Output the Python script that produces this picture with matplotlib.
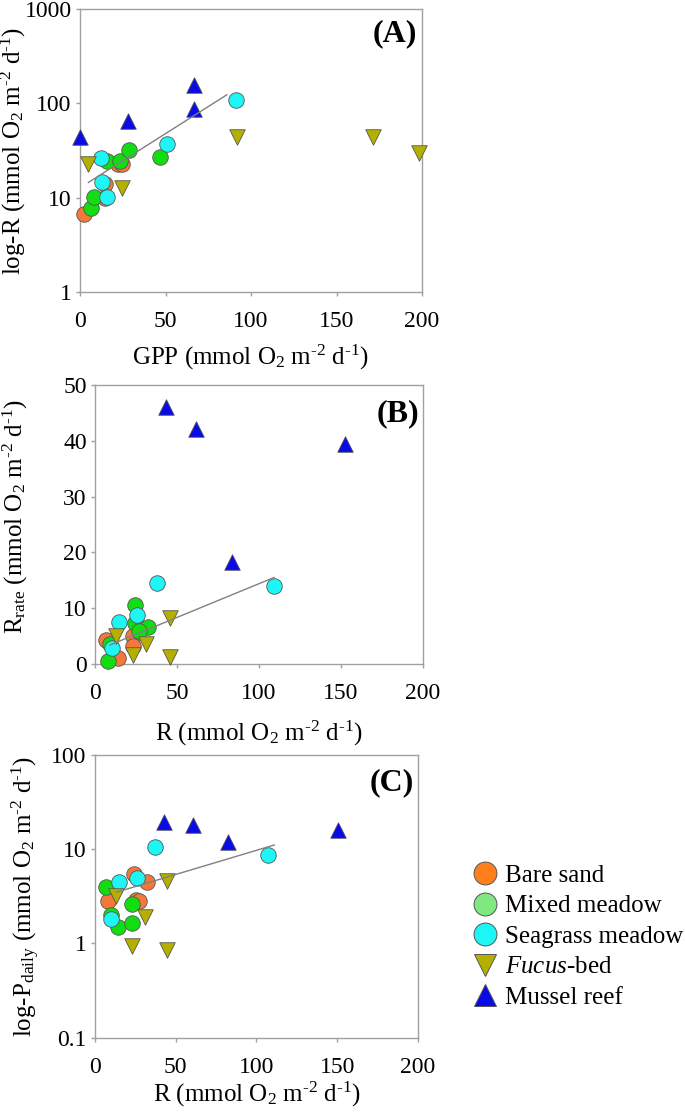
import matplotlib
matplotlib.use('Agg')
import matplotlib.pyplot as plt
from matplotlib.lines import Line2D

plt.rcParams['font.family'] = ['Liberation Serif', 'DejaVu Serif']
plt.rcParams['mathtext.fontset'] = 'custom'
plt.rcParams['mathtext.rm'] = 'Liberation Serif'
plt.rcParams['mathtext.it'] = 'Liberation Serif:italic'
plt.rcParams['mathtext.bf'] = 'Liberation Serif:bold'

# ---- Panel A: GPP vs R (log) ----
a_sand_x = [2.3, 14.6, 14.6, 22.4, 24.4]
a_sand_y = [6.7, 14.1, 10.0, 22.6, 23.0]
a_mixed_x = [6.2, 8.4, 16.0, 23.4, 28.7, 46.8]
a_mixed_y = [7.7, 10.2, 24.2, 24.2, 32.0, 27.0]
a_sea_x = [12.1, 12.7, 16.0, 50.7, 91.3]
a_sea_y = [26.2, 14.6, 10.2, 37.5, 108]
a_fucus_x = [4.9, 24.4, 91.7, 171.6, 198.5]
a_fucus_y = [23.0, 12.6, 43.5, 44.0, 29.4]
a_mussel_x = [0.0, 28.3, 66.9, 66.9]
a_mussel_y = [44.0, 64.5, 158, 87.0]
a_trend_x = [4.9, 85.8]
a_trend_y = [14.5, 123]

# ---- Panel B: R vs R_rate ----
b_sand_x = [6.7, 14.2, 23.3, 23.3]
b_sand_y = [4.3, 1.0, 5.0, 3.2]
b_mixed_x = [24.2, 24.4, 32.1, 27.0, 7.7, 9.1]
b_mixed_y = [10.6, 7.3, 6.6, 5.9, 0.6, 3.6]
b_sea_x = [37.6, 109.2, 14.4, 25.8, 10.2]
b_sea_y = [14.6, 13.9, 7.5, 8.8, 2.8]
b_fucus_x = [12.8, 23.3, 31.1, 45.7, 45.7]
b_fucus_y = [5.0, 1.6, 3.6, 8.2, 1.2]
b_mussel_x = [43.2, 61.5, 83.8, 152.3]
b_mussel_y = [46.1, 42.1, 18.3, 39.5]
b_trend_x = [9.1, 109.2]
b_trend_y = [3.4, 15.5]

# ---- Panel C: R vs P_daily (log) ----
c_sand_x = [8.1, 24.4, 31.9, 25.4, 27.0]
c_sand_y = [2.8, 5.5, 4.5, 2.9, 2.8]
c_mixed_x = [6.7, 10.2, 14.2, 22.9, 22.9]
c_mixed_y = [4.0, 2.0, 1.5, 1.66, 2.65]
c_sea_x = [37.1, 107.2, 14.8, 26.0, 10.2]
c_sea_y = [10.7, 8.8, 4.5, 4.9, 1.8]
c_fucus_x = [13.2, 22.9, 31.1, 44.7, 44.7]
c_fucus_y = [3.2, 0.95, 1.9, 4.6, 0.85]
c_mussel_x = [42.8, 60.9, 82.6, 150.4]
c_mussel_y = [19.4, 17.9, 11.9, 16.1]
c_trend_x = [13.2, 111.0]
c_trend_y = [3.5, 11.1]

groups = ['Bare sand', 'Mixed meadow', 'Seagrass meadow', '$\\mathit{Fucus}$-bed', 'Mussel reef']
point_colors = ['#F5783A', '#12DD12', '#1EF5F5', '#B5B000', '#0A0AE6']
legend_colors = ['#FF7F1E', '#80E880', '#1EF5F5', '#B5B000', '#0A0AE6']
markers = ['o', 'o', 'o', 'v', '^']

hy = '\u2010'
unit = ' (mmol O$_2$ m$^{' + hy + '2}$ d$^{' + hy + '1}$)'
tick_fs = 17
lab_fs = 18
panel_fs = 23

fig = plt.figure(figsize=(6.85, 11.12), dpi=100)
axA = fig.add_axes([0.1168, 0.7374, 0.4993, 0.2545])
axB = fig.add_axes([0.1387, 0.4029, 0.4788, 0.2509])
axC = fig.add_axes([0.1387, 0.0668, 0.4715, 0.2542])

panels = [
    (axA, [(a_sand_x, a_sand_y), (a_mixed_x, a_mixed_y), (a_sea_x, a_sea_y),
           (a_fucus_x, a_fucus_y), (a_mussel_x, a_mussel_y)], (a_trend_x, a_trend_y)),
    (axB, [(b_sand_x, b_sand_y), (b_mixed_x, b_mixed_y), (b_sea_x, b_sea_y),
           (b_fucus_x, b_fucus_y), (b_mussel_x, b_mussel_y)], (b_trend_x, b_trend_y)),
    (axC, [(c_sand_x, c_sand_y), (c_mixed_x, c_mixed_y), (c_sea_x, c_sea_y),
           (c_fucus_x, c_fucus_y), (c_mussel_x, c_mussel_y)], (c_trend_x, c_trend_y)),
]

for ax, series, trend in panels:
    for (x, y), col, m in zip(series, point_colors, markers):
        ax.scatter(x, y, s=125, c=col, marker=m, edgecolors='#555555', linewidths=0.6,
                   zorder=3, clip_on=False)
    ax.plot(trend[0], trend[1], color='#808080', lw=1.0, zorder=4)
    ax.set_xlim(0, 200)
    ax.set_xticks([0, 50, 100, 150, 200])
    for sp in ax.spines.values():
        sp.set_color('#A0A0A0')
        sp.set_linewidth(1.0)
    ax.tick_params(direction='out', length=3, width=1, color='#A0A0A0',
                   labelsize=tick_fs)
    ax.tick_params(axis='x', pad=11)
    ax.tick_params(axis='y', pad=3)

# panel A
axA.set_yscale('log')
axA.set_ylim(1, 1000)
axA.set_yticks([1, 10, 100, 1000])
axA.set_yticklabels(['1', '10', '100', '1000'])
axA.minorticks_off()
axA.set_xlabel('GPP' + unit, fontsize=lab_fs)
axA.set_ylabel('log-R' + unit, fontsize=lab_fs)
axA.xaxis.set_label_coords(0.5, -0.18)
axA.yaxis.set_label_coords(-0.152, 0.5)
axA.text(0.921, 0.912, '(A)', transform=axA.transAxes, ha='center', va='center',
         fontsize=panel_fs, fontweight='bold')

# panel B
axB.set_ylim(0, 50)
axB.set_yticks([0, 10, 20, 30, 40, 50])
axB.set_xlabel('R' + unit, fontsize=lab_fs)
axB.set_ylabel('R$_{\\mathrm{rate}}$' + unit, fontsize=lab_fs)
axB.xaxis.set_label_coords(0.5, -0.195)
axB.yaxis.set_label_coords(-0.198, 0.53)
axB.text(0.924, 0.896, '(B)', transform=axB.transAxes, ha='center', va='center',
         fontsize=panel_fs, fontweight='bold')

# panel C
axC.set_yscale('log')
axC.set_ylim(0.1, 100)
axC.set_yticks([0.1, 1, 10, 100])
axC.set_yticklabels(['0.1', '1', '10', '100'])
axC.minorticks_off()
axC.set_xlabel('R' + unit, fontsize=lab_fs)
axC.set_ylabel('log-P$_{\\mathrm{daily}}$' + unit, fontsize=lab_fs)
axC.xaxis.set_label_coords(0.5, -0.148)
axC.yaxis.set_label_coords(-0.164, 0.5)
axC.text(0.92, 0.901, '(C)', transform=axC.transAxes, ha='center', va='center',
         fontsize=panel_fs, fontweight='bold')

handles = [Line2D([], [], ls='none', marker=m, markersize=16.5, markerfacecolor=c,
                  markeredgecolor='#555555', markeredgewidth=0.7)
           for m, c in zip(markers, legend_colors)]
fig.legend(handles, groups, loc='upper left', bbox_to_anchor=(0.69, 0.2226),
           frameon=False, fontsize=18, handletextpad=0.3, labelspacing=0.32,
           handlelength=1.0, borderpad=0, borderaxespad=0)

fig.savefig('out.png', dpi=100)
